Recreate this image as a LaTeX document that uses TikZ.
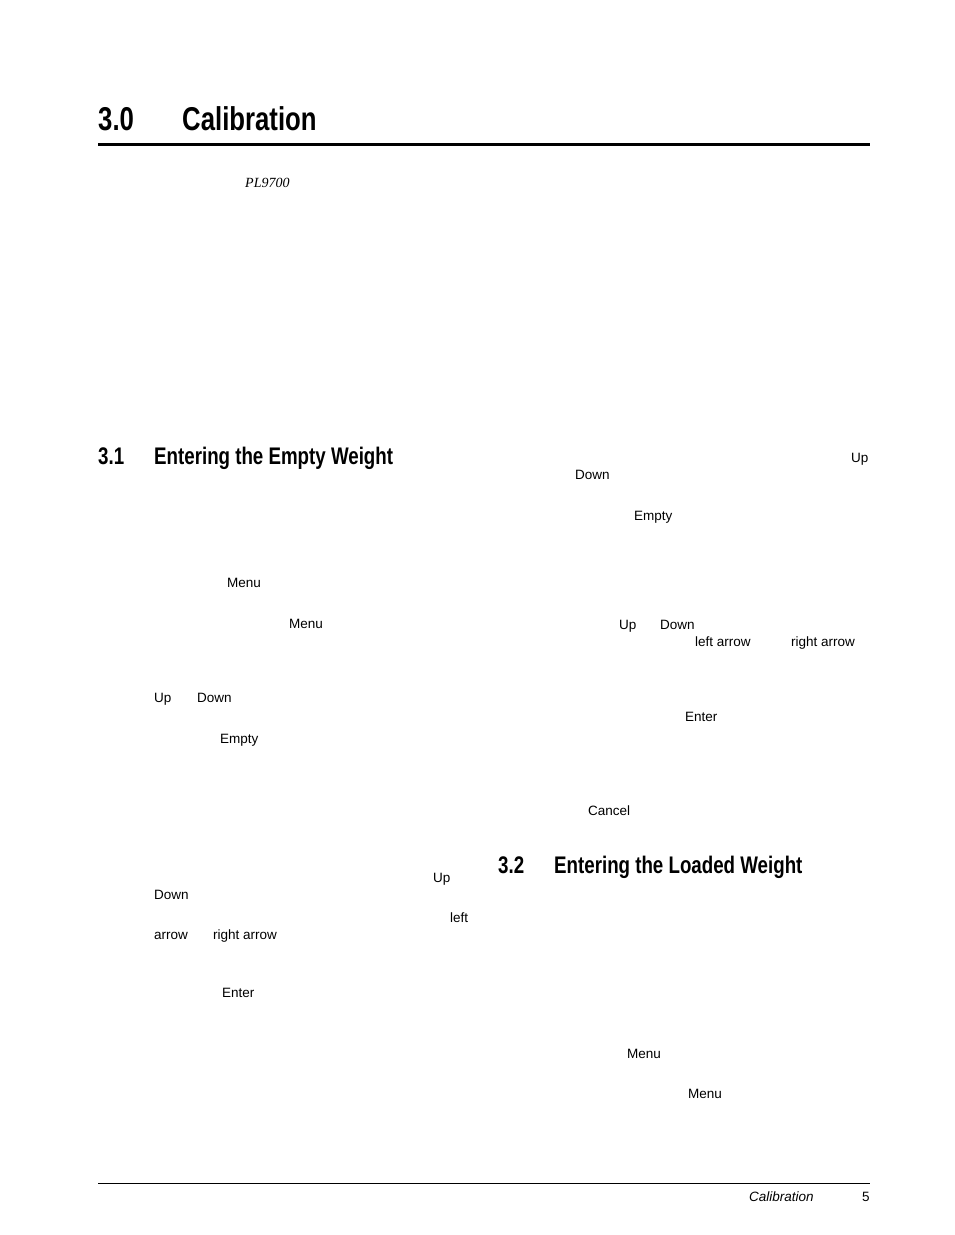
\documentclass[tikz,border=0pt]{standalone}
\usepackage{fontspec}
\setsansfont{Liberation Sans}
\newfontfamily\headfont[FakeStretch=0.78]{Liberation Sans}
\newfontfamily\serifit{Liberation Serif}
\begin{document}
\begin{tikzpicture}[x=1pt,y=-1pt]
\tikzset{lbl/.style={anchor=base west,inner sep=0pt,font=\sffamily\fontsize{13.5}{15}\selectfont},
 hd/.style={anchor=base west,inner sep=0pt,font=\headfont\bfseries\fontsize{24}{26}\selectfont},
 hdbig/.style={anchor=base west,inner sep=0pt,font=\headfont\bfseries\fontsize{33}{36}\selectfont}}
\useasboundingbox (0,0) rectangle (954,1235);
\node[hdbig] (h0n) at (98,130) {3.0};
\node[hdbig] (h0) at (182,130) {Calibration};
\draw[line width=3pt] (98,144) -- (870,144);
\node[anchor=base west,inner sep=0pt,font=\serifit\itshape\fontsize{14}{16}\selectfont] (pl) at (245,187) {PL9700};
\node[hd] (h1n) at (98,464) {3.1};
\node[hd] (h1) at (154,464) {Entering the Empty Weight};
\node[hd] (h2n) at (498,873) {3.2};
\node[hd] (h2) at (554,873) {Entering the Loaded Weight};
\foreach \t/\x/\y [count=\i] in {Up/851/462,Down/575/479,Empty/634/520,Menu/227/587,Menu/289/628,Up/619/629,Down/660/629,left arrow/695/646,right arrow/791/646,Up/154/702,Down/197/702,Empty/220/743,Enter/685/721,Cancel/588/815,Up/433/882,Down/154/899,left/450/922,arrow/154/939,right arrow/213/939,Enter/222/997,Menu/627/1058,Menu/688/1098}
  \node[lbl] (l\i) at (\x,\y) {\t};
\draw[line width=0.6pt] (98,1183) -- (870,1183);
\node[lbl,font=\sffamily\itshape\fontsize{13.5}{15}\selectfont] (ft) at (749,1201) {Calibration};
\node[lbl] (pg) at (862,1201) {5};
\end{tikzpicture}
\end{document}
